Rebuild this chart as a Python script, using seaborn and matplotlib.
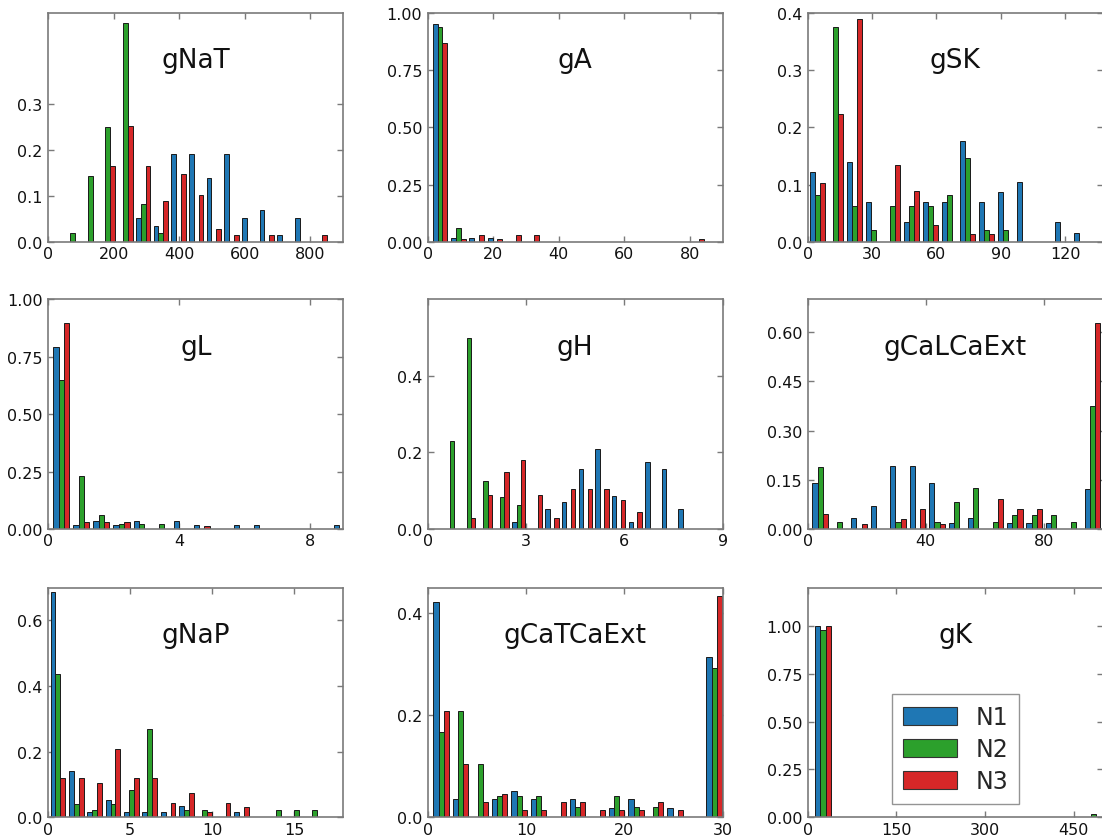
import numpy as np
import pandas as pd
import matplotlib
matplotlib.use("Agg")
import matplotlib.pyplot as plt
import seaborn as sns

# Conductance parameters, one panel each (row-major order)
params = ["gNaT", "gA", "gSK", "gL", "gH", "gCaLCaExt", "gNaP", "gCaTCaExt", "gK"]
series = ["N1", "N2", "N3"]

# Histogram bins: first edge and bin width (15 bins per parameter)
bin_start = [47.0, 0.96, 0.0, 0.092, 0.494, 0.92, 0.03, 0.378, 9.73]
bin_width = [53.9, 5.59, 8.79, 0.612, 0.5076, 6.60, 1.12, 1.983, 32.66]
n_bins = 15

# Fraction of models per bin
n1 = {
    "gNaT": [0, 0, 0, 0, 0.052, 0.035, 0.193, 0.193, 0.14, 0.193, 0.052, 0.07, 0.017, 0.052, 0],
    "gA": [0.949, 0.017, 0.017, 0.017, 0, 0, 0, 0, 0, 0, 0, 0, 0, 0, 0],
    "gSK": [0.123, 0, 0.14, 0.07, 0, 0.035, 0.07, 0.07, 0.176, 0.07, 0.0875, 0.105, 0, 0.035, 0.017],
    "gL": [0.79, 0.017, 0.035, 0.017, 0.035, 0, 0.035, 0.017, 0, 0.017, 0.017, 0, 0, 0, 0.017],
    "gH": [0, 0, 0, 0, 0.0175, 0, 0.052, 0.07, 0.157, 0.21, 0.087, 0.0175, 0.175, 0.157, 0.052],
    "gCaLCaExt": [0.14, 0, 0.035, 0.07, 0.193, 0.193, 0.14, 0.0175, 0.035, 0, 0.0175, 0.0175, 0.0175, 0, 0.122],
    "gNaP": [0.686, 0.14, 0.0175, 0.052, 0.0175, 0.0175, 0.0175, 0.035, 0, 0, 0.0175, 0, 0, 0, 0],
    "gCaTCaExt": [0.421, 0.035, 0, 0.035, 0.052, 0.035, 0, 0.035, 0, 0.0175, 0.035, 0, 0.0175, 0, 0.315],
    "gK": [1.0, 0, 0, 0, 0, 0, 0, 0, 0, 0, 0, 0, 0, 0, 0],
}
n2 = {
    "gNaT": [0.02, 0.145, 0.25, 0.478, 0.083, 0.021, 0, 0, 0, 0, 0, 0, 0, 0, 0],
    "gA": [0.9375, 0.0625, 0, 0, 0, 0, 0, 0, 0, 0, 0, 0, 0, 0, 0],
    "gSK": [0.083, 0.375, 0.0625, 0.021, 0.0625, 0.0625, 0.0625, 0.083, 0.146, 0.021, 0.021, 0, 0, 0, 0],
    "gL": [0.647, 0.229, 0.0625, 0.021, 0.021, 0.021, 0, 0, 0, 0, 0, 0, 0, 0, 0],
    "gH": [0.23, 0.5, 0.125, 0.083, 0.0625, 0, 0, 0, 0, 0, 0, 0, 0, 0, 0],
    "gCaLCaExt": [0.1875, 0.021, 0, 0, 0.021, 0, 0.021, 0.083, 0.125, 0.021, 0.042, 0.042, 0.042, 0.021, 0.375],
    "gNaP": [0.438, 0.042, 0.021, 0.042, 0.083, 0.27, 0, 0.021, 0.021, 0, 0, 0, 0.021, 0.021, 0.021],
    "gCaTCaExt": [0.167, 0.208, 0.104, 0.042, 0.042, 0.042, 0, 0.021, 0, 0.042, 0.021, 0.021, 0, 0, 0.292],
    "gK": [0.98, 0, 0, 0, 0, 0, 0, 0, 0, 0, 0, 0, 0, 0, 0.02],
}
n3 = {
    "gNaT": [0, 0, 0.165, 0.254, 0.165, 0.09, 0.149, 0.104, 0.03, 0.015, 0, 0.015, 0, 0, 0.015],
    "gA": [0.868, 0.015, 0.03, 0.015, 0.03, 0.03, 0, 0, 0, 0, 0, 0, 0, 0, 0.015],
    "gSK": [0.104, 0.224, 0.388, 0, 0.134, 0.09, 0.03, 0, 0.015, 0.015, 0, 0, 0, 0, 0],
    "gL": [0.897, 0.03, 0.03, 0.03, 0, 0, 0, 0.015, 0, 0, 0, 0, 0, 0, 0],
    "gH": [0, 0.03, 0.09, 0.149, 0.179, 0.09, 0.03, 0.104, 0.104, 0.104, 0.075, 0.045, 0, 0, 0],
    "gCaLCaExt": [0.045, 0, 0.015, 0, 0.03, 0.06, 0.015, 0, 0, 0.09, 0.06, 0.06, 0, 0, 0.627],
    "gNaP": [0.119, 0.119, 0.104, 0.208, 0.119, 0.119, 0.045, 0.075, 0.015, 0.045, 0.03, 0, 0, 0, 0],
    "gCaTCaExt": [0.209, 0.104, 0.03, 0.045, 0.015, 0.015, 0.03, 0.03, 0.015, 0.015, 0.015, 0.03, 0.015, 0, 0.433],
    "gK": [1.0, 0, 0, 0, 0, 0, 0, 0, 0, 0, 0, 0, 0, 0, 0],
}

# Axis ranges and ticks
x_max = [900, 90, 137.5, 9, 9, 100, 18, 30, 499]
y_max = [0.5, 1.0, 0.4, 1.0, 0.6, 0.7, 0.7, 0.45, 1.2]
x_ticks = [[0, 200, 400, 600, 800], [0, 20, 40, 60, 80], [0, 30, 60, 90, 120],
           [0, 4, 8], [0, 3, 6, 9], [0, 40, 80], [0, 5, 10, 15], [0, 10, 20, 30],
           [0, 150, 300, 450]]
y_ticks = [[0, 0.1, 0.2, 0.3], [0, 0.25, 0.5, 0.75, 1.0], [0, 0.1, 0.2, 0.3, 0.4],
           [0, 0.25, 0.5, 0.75, 1.0], [0, 0.2, 0.4], [0, 0.15, 0.3, 0.45, 0.6],
           [0, 0.2, 0.4, 0.6], [0, 0.2, 0.4], [0, 0.25, 0.5, 0.75, 1.0]]
y_fmt = ["%.1f", "%.2f", "%.1f", "%.2f", "%.1f", "%.2f", "%.1f", "%.1f", "%.2f"]

palette = {"N1": "#1f77b4", "N2": "#2ca02c", "N3": "#d62728"}
frame_color = "#7a7a7a"

sns.set_theme(style="white", rc={
    "xtick.direction": "in", "ytick.direction": "in",
    "xtick.top": True, "ytick.right": True,
    "xtick.bottom": True, "ytick.left": True,
    "xtick.major.size": 4, "ytick.major.size": 4,
    "xtick.major.width": 1.0, "ytick.major.width": 1.0,
    "xtick.color": frame_color, "ytick.color": frame_color,
    "xtick.labelcolor": "#111111", "ytick.labelcolor": "#111111",
    "xtick.labelsize": 11.5, "ytick.labelsize": 11.5,
    "xtick.major.pad": 3, "ytick.major.pad": 4,
    "axes.edgecolor": frame_color, "axes.linewidth": 1.2,
})
plt.rcParams["font.family"] = ["DejaVu Sans"]

fig = plt.figure(figsize=(11.02, 8.37), dpi=100)

col_left = [0.0438, 0.3881, 0.7329]
row_bottom = [0.7093, 0.3668, 0.0223]
ax_w, ax_h = 0.2677, 0.2745

for i, name in enumerate(params):
    r, c = divmod(i, 3)
    ax = fig.add_axes([col_left[c], row_bottom[r], ax_w, ax_h])

    edges = bin_start[i] + bin_width[i] * np.arange(n_bins + 1)
    centers = (edges[:-1] + edges[1:]) / 2
    frames = []
    for s, table in zip(series, (n1, n2, n3)):
        frames.append(pd.DataFrame({"value": centers, "fraction": table[name], "model": s}))
    df = pd.concat(frames, ignore_index=True)

    sns.histplot(data=df, x="value", weights="fraction", hue="model",
                 hue_order=series, palette=palette, bins=edges.tolist(),
                 multiple="dodge", shrink=0.8, alpha=1.0,
                 edgecolor="#1a1a1a", linewidth=0.7, legend=False, ax=ax)

    ax.set_xlim(0, x_max[i])
    ax.set_ylim(0, y_max[i])
    ax.set_xticks(x_ticks[i])
    ax.set_yticks(y_ticks[i])
    ax.set_xticklabels([str(t) for t in x_ticks[i]])
    ax.set_yticklabels([y_fmt[i] % t for t in y_ticks[i]])
    ax.set_xlabel("")
    ax.set_ylabel("")
    ax.text(0.5, 0.762, name, transform=ax.transAxes, ha="center",
            va="baseline", fontsize=19, color="#111111")

    if name == "gK":
        handles = [plt.Rectangle((0, 0), 1, 1, facecolor=palette[s],
                                 edgecolor="#333333", linewidth=0.8) for s in series]
        leg = ax.legend(handles, series, loc="lower left",
                        bbox_to_anchor=(0.286, 0.058), borderaxespad=0,
                        fontsize=17, fancybox=False, frameon=True,
                        handlelength=2.3, handleheight=0.8,
                        handletextpad=0.8, labelspacing=0.35,
                        borderpad=0.45)
        leg.get_frame().set_edgecolor(frame_color)
        leg.get_frame().set_linewidth(1.0)

fig.savefig("out.png", dpi=100)
